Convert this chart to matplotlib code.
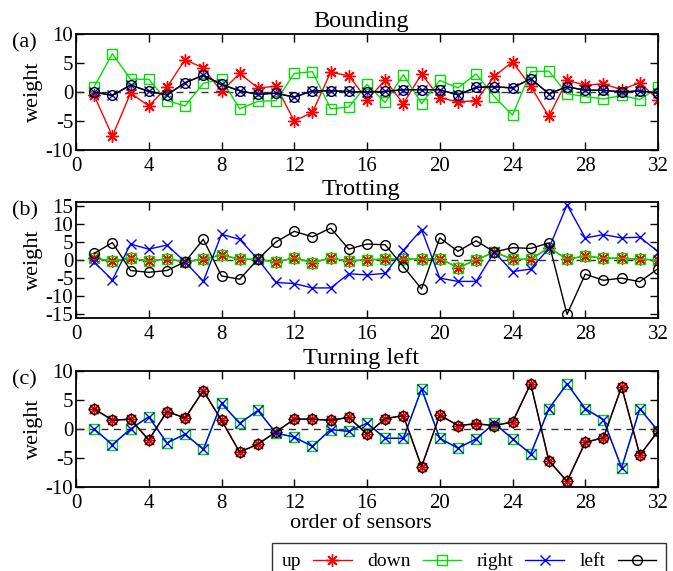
import matplotlib
matplotlib.use("Agg")
import matplotlib.pyplot as plt
import numpy as np

plt.rcParams['font.family'] = ['Liberation Serif', 'DejaVu Serif']
plt.rcParams['font.size'] = 14
plt.rcParams['axes.unicode_minus'] = False

sensors = np.arange(1, 33)

# (a) Bounding
bound_up = [-0.6, -7.6, -0.2, -2.4, 0.8, 5.6, 4.1, 0.1, 3.2, 0.7, 1.0, -5.0, -3.5, 3.4, 2.8, -1.3,
            2.0, -2.0, 3.1, -1.0, -1.7, -1.5, 2.7, 5.2, 1.0, -4.2, 2.0, 1.2, 1.4, 0.4, 1.6, -1.3]
bound_down = [0.9, 6.6, 2.2, 2.2, -1.5, -2.4, 1.5, 2.2, -2.9, -1.6, -1.5, 3.2, 3.5, -2.9, -2.6, 1.3,
              -1.8, 3.0, -2.0, 2.0, 0.7, 3.1, -0.8, -4.0, 3.5, 3.6, -0.3, -0.8, -1.2, -0.6, -1.3, 0.8]
bound_right = [0.0, -0.6, 1.2, 0.1, -0.5, 1.6, 2.9, 1.3, 0.2, -0.4, -0.2, -0.9, 0.2, 0.2, 0.1, 0.0,
               0.1, 0.4, 0.4, 0.4, -0.5, 0.8, 0.9, 0.7, 2.3, -0.3, 0.9, 0.3, 0.3, 0.0, 0.2, -0.2]
bound_left = [0.0, -0.6, 1.2, 0.1, -0.5, 1.6, 2.9, 1.3, 0.2, -0.4, -0.2, -0.9, 0.2, 0.2, 0.1, 0.0,
              0.1, 0.4, 0.4, 0.4, -0.5, 0.8, 0.9, 0.7, 2.3, -0.3, 0.9, 0.3, 0.3, 0.0, 0.2, -0.2]

# (b) Trotting
trot_up = [0.5, -0.3, 0.5, -0.3, 0.3, -0.5, 0.2, 1.4, 0.2, 0.2, -0.6, 0.6, -0.7, 0.5, -0.3, 0.1,
           0.2, 0.3, 0.2, 0.4, -2.1, 0.0, 2.2, 0.2, 0.2, 3.4, 0.2, 1.1, 0.5, 0.5, 0.2, 0.0]
trot_down = trot_up
trot_right = [-0.6, -5.5, 4.4, 3.0, 4.1, -0.5, -5.9, 7.1, 5.7, 0.2, -6.2, -6.5, -7.7, -7.7, -3.8, -4.1,
              -3.7, 2.7, 8.4, -5.0, -5.9, -5.9, 2.2, -3.2, -2.5, 3.2, 15.2, 6.1, 7.0, 6.1, 6.3, 2.3]
trot_left = [1.8, 4.8, -2.9, -3.4, -2.9, -0.5, 5.7, -4.4, -5.3, 0.2, 5.0, 7.9, 6.4, 8.8, 3.0, 4.4,
             4.2, -1.8, -8.0, 6.1, 2.4, 5.3, 2.2, 3.4, 3.2, 4.7, -15.0, -3.9, -5.6, -5.0, -6.0, -2.4]

# (c) Turning left
turn_up = [3.5, 1.5, 1.7, -1.9, 3.0, 1.9, 6.6, 1.5, -4.0, -2.6, -0.5, 1.7, 1.7, 1.5, 2.0, -0.9,
           1.8, 2.3, -6.5, 2.4, 0.6, 0.9, 0.6, 1.2, 7.8, -5.5, -9.0, -2.3, -1.5, 7.3, -4.5, -0.4]
turn_down = [0.0, -2.7, 0.0, 2.1, -2.4, -0.9, -3.5, 4.4, 1.0, 3.2, -0.7, -1.4, -3.0, -0.1, -0.4, 1.0,
             -1.6, -1.6, 6.9, -1.6, -3.3, -1.7, 1.0, -1.7, -4.3, 3.5, 7.8, 3.5, 1.6, -6.7, 3.5, -0.3]
turn_right = turn_down
turn_left = turn_up

panels = [
    ("(a)", "Bounding", [bound_up, bound_down, bound_right, bound_left], 10),
    ("(b)", "Trotting", [trot_up, trot_down, trot_right, trot_left], 16),
    ("(c)", "Turning left", [turn_up, turn_down, turn_right, turn_left], 10),
]
names = ["up", "down", "right", "left"]
styles = [
    dict(color='#ff0000', marker=(8, 2, 0), markersize=9, markeredgewidth=1),
    dict(color='#00e000', marker='s', markersize=7, markerfacecolor='none', markeredgewidth=1),
    dict(color='#0000ff', marker='x', markersize=6.5, markeredgewidth=1),
    dict(color='black', marker='o', markersize=7, markerfacecolor='none', markeredgewidth=1),
]

fig = plt.figure(figsize=(6.73, 5.71), dpi=100)
tops = [34, 202, 371]
handles = []
for (lab, title, series, lim), top in zip(panels, tops):
    ax = fig.add_axes([76 / 673, 1 - (top + 116) / 571, 582 / 673, 116 / 571])
    ax.axhline(0, color='#333333', lw=1, ls=(0, (5, 4)))
    for s, st, nm in zip(series, styles, names):
        h, = ax.plot(sensors, s, lw=1, label=nm, **st)
        if lab == "(a)":
            handles.append(h)
    ax.set_xlim(0, 32)
    ax.set_ylim(-lim, lim)
    ax.set_xticks(range(0, 33, 4))
    if lim == 16:
        ax.set_yticks(range(-15, 16, 5))
    else:
        ax.set_yticks(range(-10, 11, 5))
    ax.tick_params(direction='in', top=True, right=True, length=6, width=1, labelsize=15, pad=2)
    ax.tick_params(axis='x', pad=5)
    for sp in ax.spines.values():
        sp.set_linewidth(1.3)
    ax.set_ylabel("weight", fontsize=16, labelpad=2)
    fig.text(361 / 673, 1 - (top - 7) / 571, title, fontsize=17.5, ha='center', va='baseline')
    fig.text(12 / 673, 1 - (top + 9) / 571, lab, fontsize=16, va='center', ha='left')

fig.text(361 / 673, 1 - 524 / 571, "order of sensors", fontsize=16, ha='center', va='center')

leg = fig.legend(handles=handles, loc='upper left', bbox_to_anchor=(272 / 673, 1 - 543 / 571),
                 ncol=4, markerfirst=False, frameon=True, fancybox=False, edgecolor='black',
                 fontsize=14, handlelength=2.0, columnspacing=0.8, handletextpad=0.6,
                 borderpad=0.5, borderaxespad=0)
leg.get_frame().set_linewidth(1.0)

fig.savefig("out.png", dpi=100)
